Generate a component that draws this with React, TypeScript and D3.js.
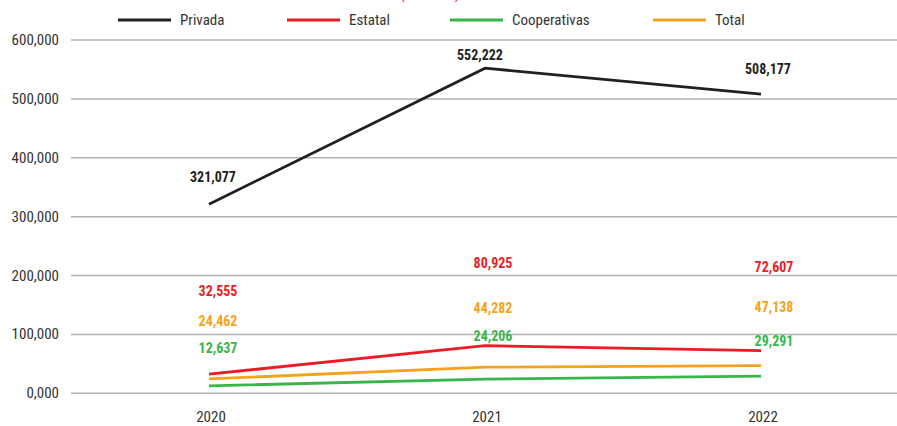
import React, { useEffect, useRef } from 'react';
import * as d3 from 'd3';

const years = ['2020', '2021', '2022'];
const seriesNames = ['Privada', 'Estatal', 'Cooperativas', 'Total'];
const privada = [321077, 552222, 508177];
const estatal = [32555, 80925, 72607];
const cooperativas = [12637, 24206, 29291];
const total = [24462, 44282, 47138];
const yTicks = [0, 100000, 200000, 300000, 400000, 500000, 600000];
const yTickLabels = ['0,000', '100,000', '200,000', '300,000', '400,000', '500,000', '600,000'];

const colors = ['#231f20', '#ed1c24', '#39b54a', '#f7a21b'];
// label lift above each point, per series
const labelLift = [[27, 13, 25], [83, 83, 84], [38, 43, 35], [58, 59, 59]];
const labelShift = [[4, -5, 7], [9, 8, 13], [9, 8, 13], [9, 8, 13]];

const FONT = "'Roboto Condensed', 'Liberation Sans Narrow', 'DejaVu Sans Condensed', Roboto, sans-serif";

const App = () => {
  const svgRef = useRef<SVGSVGElement>(null);

  useEffect(() => {
    const w = 897;
    const h = 426;
    const svg = d3.select(svgRef.current);
    svg.selectAll('*').remove();

    const x = d3.scaleBand().domain(years).range([71, 899]);
    const y = d3.scaleLinear().domain([0, 600000]).range([393.3, 40]);
    const cx = (yr: string) => (x(yr) as number) + x.bandwidth() / 2;

    // cut-off subtitle at the very top
    svg.append('text')
      .attr('x', 430).attr('y', -1)
      .attr('text-anchor', 'middle')
      .attr('font-family', FONT).attr('font-size', 15)
      .attr('fill', '#ed1c24')
      .text('(en miles)');

    // grid + y labels
    const grid = svg.append('g');
    grid.selectAll('line').data(yTicks).join('line')
      .attr('x1', 71).attr('x2', w)
      .attr('y1', d => y(d)).attr('y2', d => y(d))
      .attr('stroke', '#b3b3b3').attr('stroke-width', 1.5);
    grid.selectAll('text').data(yTicks).join('text')
      .attr('x', 59).attr('y', d => y(d) + 5)
      .attr('text-anchor', 'end')
      .attr('font-family', FONT).attr('font-size', 15)
      .attr('fill', '#333')
      .text((d, i) => yTickLabels[i]);

    // x labels
    svg.append('g').selectAll('text').data(years).join('text')
      .attr('x', d => cx(d) + 2).attr('y', 422)
      .attr('text-anchor', 'middle')
      .attr('font-family', FONT).attr('font-size', 15)
      .attr('fill', '#333')
      .text(d => d);

    const all = [privada, estatal, cooperativas, total];
    const line = d3.line<number>().x((d, i) => cx(years[i])).y(d => y(d));
    const drawOrder = [3, 2, 1, 0];
    drawOrder.forEach(s => {
      svg.append('path')
        .attr('d', line(all[s]) as string)
        .attr('fill', 'none')
        .attr('stroke', colors[s])
        .attr('stroke-width', 2.8);
    });

    all.forEach((vals, s) => {
      svg.append('g').selectAll('text').data(vals).join('text')
        .attr('x', (d, i) => cx(years[i]) + labelShift[s][i])
        .attr('y', (d, i) => y(d) - labelLift[s][i] + 5)
        .attr('text-anchor', 'middle')
        .attr('font-family', FONT).attr('font-size', 14).attr('font-weight', 'bold')
        .attr('fill', colors[s])
        .text(d => d3.format(',')(d));
    });

    // legend
    const legendX = [118, 287, 450, 653];
    const lg = svg.append('g');
    seriesNames.forEach((name, s) => {
      lg.append('line')
        .attr('x1', legendX[s]).attr('x2', legendX[s] + 53)
        .attr('y1', 20).attr('y2', 20)
        .attr('stroke', colors[s]).attr('stroke-width', 3);
      lg.append('text')
        .attr('x', legendX[s] + 62).attr('y', 25)
        .attr('font-family', FONT).attr('font-size', 15)
        .attr('fill', '#333')
        .text(name);
    });

    svg.attr('width', w).attr('height', h);
  }, []);

  return (
    <div style={{ position: 'absolute', left: 0, top: 0 }}>
      <svg ref={svgRef} style={{ display: 'block', background: '#fff', overflow: 'hidden' }}></svg>
    </div>
  );
};

export default App;
